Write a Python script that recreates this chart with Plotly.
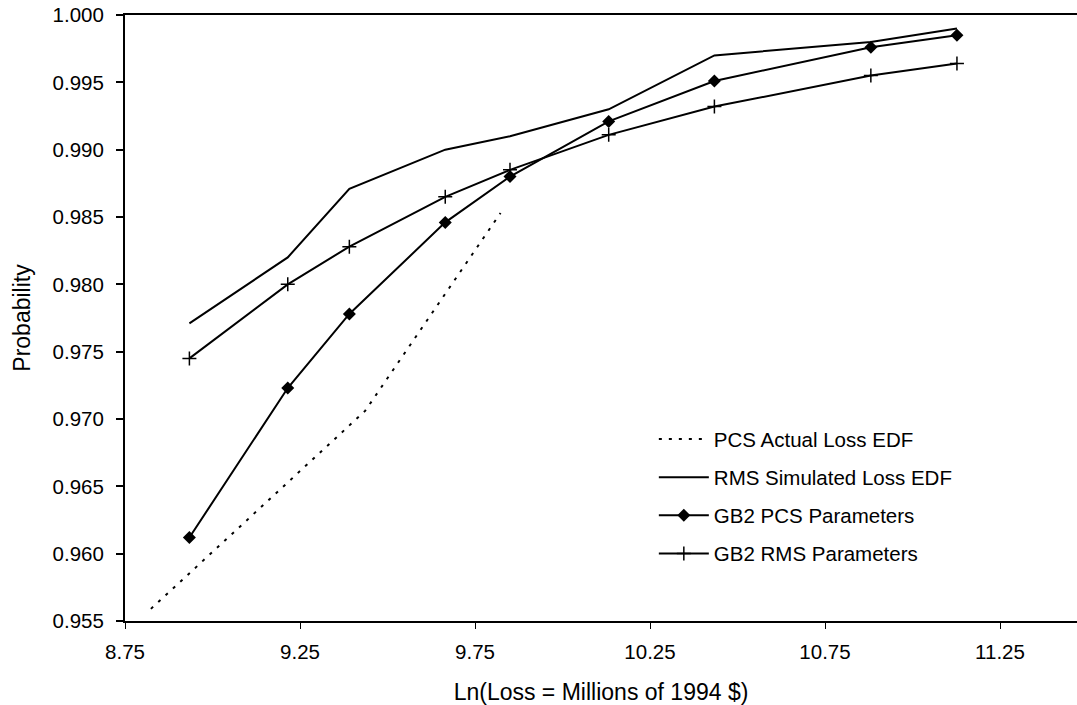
import plotly.graph_objects as go

# Data
pcs_actual_x = [8.824, 9.436, 9.823]
pcs_actual_y = [0.9559, 0.9706, 0.9853]

fit_x = [8.934, 9.215, 9.391, 9.665, 9.850, 10.132, 10.434, 10.881, 11.127]
rms_sim_y = [0.9771, 0.9820, 0.9871, 0.9900, 0.9910, 0.9930, 0.9970, 0.9980, 0.9990]
gb2_pcs_y = [0.9612, 0.9723, 0.9778, 0.9846, 0.9880, 0.9921, 0.9951, 0.9976, 0.9985]
gb2_rms_y = [0.9745, 0.9800, 0.9828, 0.9865, 0.9885, 0.9911, 0.9932, 0.9955, 0.9964]

x_ticks = [8.75, 9.25, 9.75, 10.25, 10.75, 11.25]
y_ticks = [0.955, 0.960, 0.965, 0.970, 0.975, 0.980, 0.985, 0.990, 0.995, 1.000]

FONT = "Arial, Liberation Sans, Helvetica, sans-serif"

fig = go.Figure()
fig.add_trace(go.Scatter(
    x=pcs_actual_x, y=pcs_actual_y, mode="lines", name="PCS Actual Loss EDF",
    line=dict(color="black", width=2, dash="3px,7px"), legendgroup="a"))
fig.add_trace(go.Scatter(
    x=fit_x, y=rms_sim_y, mode="lines", name="RMS Simulated Loss EDF",
    line=dict(color="black", width=2), legendgroup="b"))
fig.add_trace(go.Scatter(
    x=fit_x, y=gb2_pcs_y, mode="lines+markers", name="GB2 PCS Parameters",
    line=dict(color="black", width=2),
    marker=dict(symbol="diamond", size=10, color="black"), legendgroup="c"))
fig.add_trace(go.Scatter(
    x=fit_x, y=gb2_rms_y, mode="lines+markers", name="GB2 RMS Parameters",
    line=dict(color="black", width=2),
    marker=dict(symbol="cross-thin", size=10, color="black",
                line=dict(color="black", width=1.5)), legendgroup="d"))

fig.update_layout(
    width=1077, height=705,
    margin=dict(l=125, r=0, t=15, b=84),
    paper_bgcolor="white", plot_bgcolor="white",
    font=dict(family=FONT, size=20.5, color="black"),
    showlegend=True,
    legend=dict(x=0.5555, y=0.333, xanchor="left", yanchor="top",
                bgcolor="rgba(0,0,0,0)", borderwidth=0, itemwidth=50,
                tracegroupgap=8.5, font=dict(size=20.5)),
    xaxis=dict(range=[8.75, 11.47], tickvals=x_ticks,
               ticktext=[f"{v:.2f}" for v in x_ticks],
               showgrid=False, zeroline=False,
               showline=True, linecolor="black", linewidth=2, mirror=True,
               ticks="outside", ticklen=6, tickwidth=1, tickcolor="black",
               ticklabelstandoff=5,
               title=dict(text="Ln(Loss = Millions of 1994 $)", standoff=24,
                          font=dict(size=23))),
    yaxis=dict(range=[0.955, 1.0], tickvals=y_ticks,
               ticktext=[f"{v:.3f}" for v in y_ticks],
               showgrid=False, zeroline=False,
               showline=True, linecolor="black", linewidth=2, mirror=False,
               ticks="outside", ticklen=7, tickwidth=2, tickcolor="black",
               ticklabelstandoff=8,
               title=dict(text="Probability", standoff=16, font=dict(size=23))),
)

fig.write_html("out.html")
